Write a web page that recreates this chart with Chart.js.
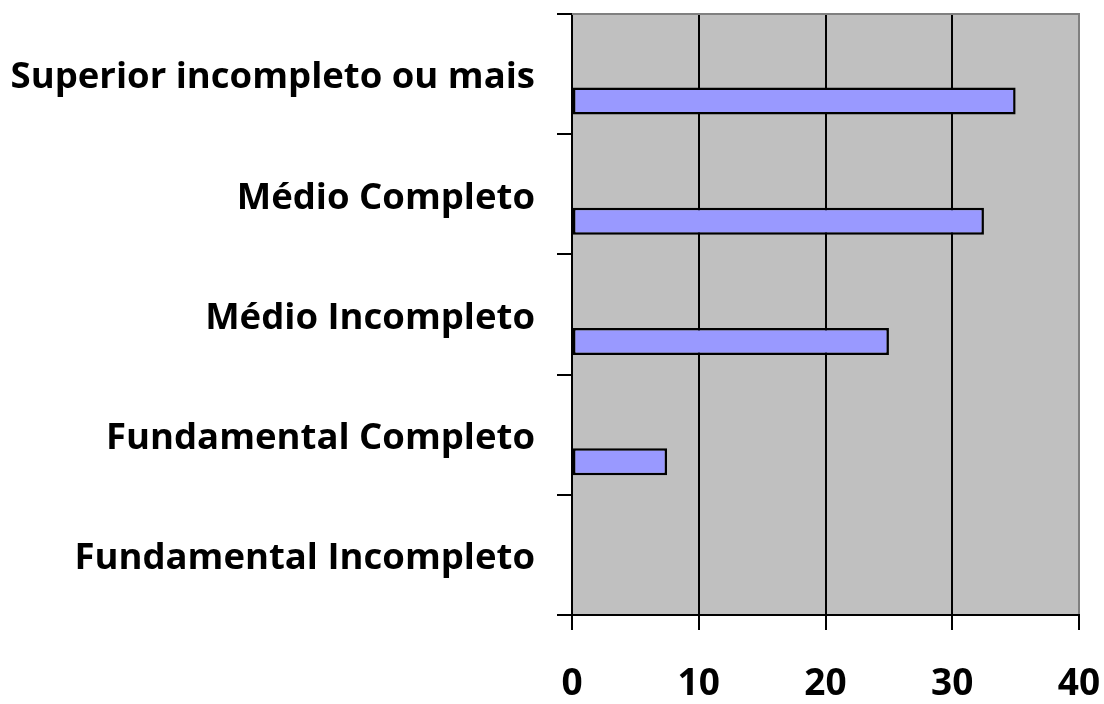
<!DOCTYPE html>
<html>
<head>
<meta charset="utf-8">
<script src="https://cdn.jsdelivr.net/npm/chart.js@4"></script>
<style>
  html, body { margin: 0; padding: 0; background: #fff; }
  #wrap { width: 1104px; height: 704px; }
</style>
</head>
<body>
<div id="wrap"><canvas id="chartEscolaridade"></canvas></div>
<script>
const categories = ['Superior incompleto ou mais', 'Médio Completo', 'Médio Incompleto', 'Fundamental Completo', 'Fundamental Incompleto']
const values = [35, 32.5, 25, 7.5, 0]
// the original sheet groups three series per row, only the last one holds data
const emptySeriesA = [null, null, null, null, null]
const emptySeriesB = [null, null, null, null, null]
const xTicks = [0, 10, 20, 30, 40]

const plotBackground = {
    id: 'plotBackground',
    beforeDraw(chart) {
        const {ctx, chartArea: a} = chart
        ctx.save()
        ctx.fillStyle = '#C0C0C0'
        ctx.fillRect(a.left, a.top, a.right - a.left, a.bottom - a.top)
        ctx.restore()
    },
    afterDraw(chart) {
        const {ctx, chartArea: a} = chart
        ctx.save()
        ctx.strokeStyle = '#808080'
        ctx.lineWidth = 2
        ctx.beginPath()
        ctx.moveTo(a.left, a.top)
        ctx.lineTo(a.right, a.top)
        ctx.lineTo(a.right, a.bottom - 1)
        ctx.stroke()
        ctx.restore()
    }
}

const data = {
    labels: categories,
    datasets: [
        { data: emptySeriesA },
        { data: emptySeriesB },
        {
            data: values,
            backgroundColor: '#9999FF',
            borderColor: '#000',
            borderWidth: 2.5,
            borderSkipped: false
        }
    ]
}

const options = {
    indexAxis: 'y',
    responsive: true,
    maintainAspectRatio: false,
    animation: false,
    datasets: { bar: { categoryPercentage: 0.674, barPercentage: 1 } },
    layout: { padding: { top: 14, right: 25, left: 0, bottom: 0 } },
    plugins: {
        legend: { display: false },
        tooltip: { enabled: false }
    },
    scales: {
        x: {
            min: 0,
            max: 40,
            afterBuildTicks: axis => { axis.ticks = xTicks.map(v => ({value: v})) },
            afterFit: axis => {
                axis.height = 89
                axis.paddingLeft = 0
                axis.paddingRight = 0
            },
            grid: { color: '#000', lineWidth: 2, tickLength: 15, drawTicks: true },
            border: { color: '#000', width: 2 },
            ticks: {
                color: '#000',
                padding: 32,
                font: { family: 'Open Sans', weight: 'bold', size: 37 }
            }
        },
        y: {
            afterFit: axis => {
                axis.width = 572
                axis.paddingTop = 0
                axis.paddingBottom = 0
            },
            grid: { offset: true, drawOnChartArea: false, color: '#000', lineWidth: 2, tickLength: 15 },
            border: { color: '#000', width: 2 },
            ticks: {
                color: '#000',
                padding: 22,
                labelOffset: 4,
                font: { family: 'Open Sans', weight: 'bold', size: 36.5 }
            }
        }
    }
}

new Chart('chartEscolaridade', {type: 'bar', data, options, plugins: [plotBackground]})
</script>
</body>
</html>
